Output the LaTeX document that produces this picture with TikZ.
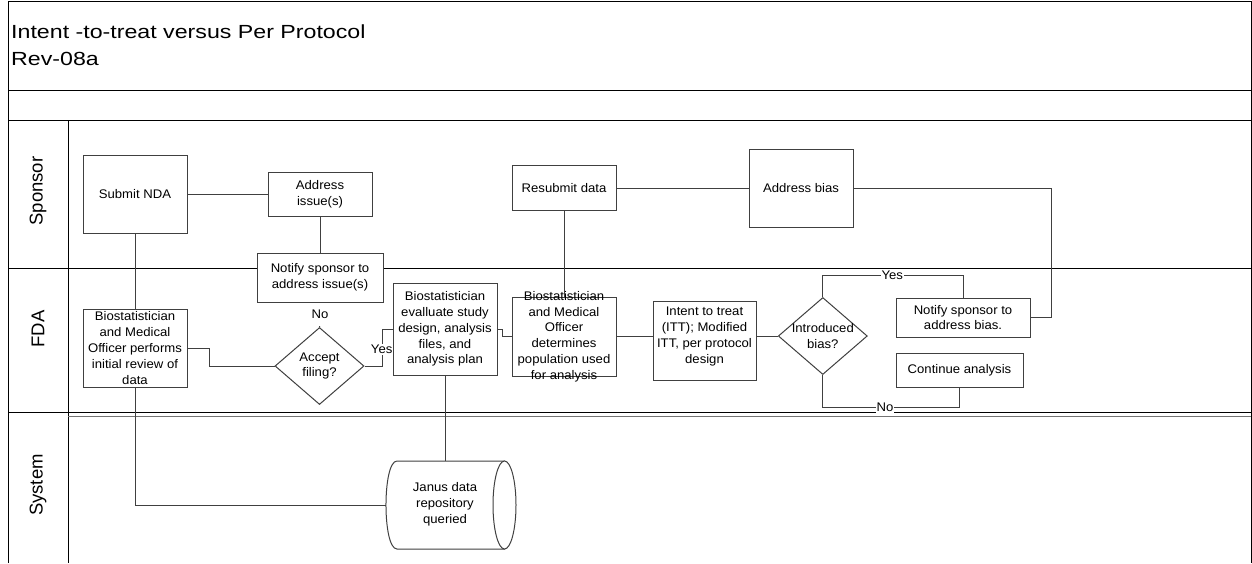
\documentclass[tikz,border=0pt]{standalone}
\usepackage{fontspec}
\setmainfont{Liberation Sans}
\newfontfamily\bodyfam[FakeStretch=1.05]{Liberation Sans}
\newfontfamily\titlefam[FakeStretch=1.22]{Liberation Sans}
\usetikzlibrary{shapes.geometric}

\tikzset{
  frame/.style={draw=black, line width=1pt},
  box/.style={rectangle, draw=black!75, fill=white, line width=1pt, inner sep=0pt},
  boxtext/.style={font=\bodyfam\fontsize{12.5}{15.8}\selectfont, align=center, inner sep=0pt},
  decision/.style={diamond, draw=black!75, fill=white, line width=1pt, inner sep=0pt},
  conn/.style={draw=black!75, line width=1pt},
  connlabel/.style={font=\bodyfam\fontsize{12.5}{15.8}\selectfont, fill=white, inner sep=1pt},
  lanelabel/.style={font=\fontsize{18.5}{22}\selectfont, rotate=90, inner sep=0pt},
  titletext/.style={font=\titlefam\fontsize{19}{27}\selectfont, anchor=base west, inner sep=0pt},
}

\begin{document}
\begin{tikzpicture}[x=1pt, y=-1pt]
\useasboundingbox (0,0) rectangle (1252,563);

% ---- pool frame, title band and swimlanes ----
\draw[frame] (8,563) -- (8,1) -- (1251,1) -- (1251,563);
\draw[frame] (8,90) -- (1251,90);
\draw[frame] (8,120) -- (1251,120);
\draw[frame] (68,120) -- (68,563);
\draw[frame] (8,268) -- (1251,268);
\draw[frame] (8,412.5) -- (1251,412.5);
\draw[draw=black!55, line width=1pt] (68,416) -- (1251,416);

\node[titletext] (title) at (11,38.3) {Intent -to-treat versus Per Protocol};
\node[titletext] (rev) at (11,65.7) {Rev-08a};

\node[lanelabel] (laneS) at (38,191) {Sponsor};
\node[lanelabel] (laneF) at (38,329) {FDA};
\node[lanelabel] (laneY) at (38,485) {System};

% ---- Sponsor lane ----
\node[box, minimum width=104pt, minimum height=78pt,
      label={[boxtext]center:Submit NDA}] (submit) at (135,194) {};
\node[box, minimum width=104pt, minimum height=44pt,
      label={[boxtext]center:{Address\\issue(s)}}] (address) at (320,194) {};
\node[box, minimum width=104pt, minimum height=45pt,
      label={[boxtext]center:Resubmit data}] (resub) at (564,188) {};
\node[box, minimum width=104pt, minimum height=78pt,
      label={[boxtext]center:Address bias}] (abias) at (801,188) {};

% ---- FDA lane ----
\node[box, minimum width=126pt, minimum height=49pt,
      label={[boxtext]center:{Notify sponsor to\\address issue(s)}}] (notify) at (320,277.5) {};
\node[box, minimum width=104pt, minimum height=78pt,
      label={[boxtext]center:{Biostatistician\\and Medical\\Officer performs\\initial review of\\data}}] (bio1) at (135,348) {};
\node[decision, minimum width=89pt, minimum height=77pt,
      label={[boxtext]center:{Accept\\filing?}}] (accept) at (319.5,366) {};
\node[box, minimum width=104pt, minimum height=92pt,
      label={[boxtext]center:{Biostatistician\\evalluate study\\design, analysis\\files, and\\analysis plan}}] (bio2) at (445,329) {};
\node[box, minimum width=104pt, minimum height=79pt,
      label={[boxtext]center:{Biostatistician\\and Medical\\Officer\\determines\\population used\\for analysis}}] (bio3) at (564,336.5) {};
\node[box, minimum width=103pt, minimum height=79pt,
      label={[boxtext, yshift=4pt]center:{Intent to treat\\(ITT); Modified\\ITT, per protocol\\design}}] (itt) at (704.5,340.5) {};
\node[decision, minimum width=89pt, minimum height=77pt,
      label={[boxtext]center:{Introduced\\bias?}}] (bias) at (822.8,336) {};
\node[box, minimum width=134pt, minimum height=39pt,
      label={[boxtext]center:{Notify sponsor to\\address bias.}}] (nbias) at (963,317.5) {};
\node[box, minimum width=127pt, minimum height=34pt,
      label={[boxtext]center:Continue analysis}] (cont) at (959.5,370) {};

% ---- System lane: direct-access storage ----
\node[inner sep=0pt, minimum width=130pt, minimum height=88pt] (janus) at (451,505) {};
\draw[box] (505,461) -- (397,461) .. controls (382.3,461) and (382.3,549) .. (397,549) -- (505,549);
\draw[box] (504.5,505) ellipse [x radius=11.5, y radius=44];
\node[boxtext] (janustext) at (445,504) {Janus data\\repository\\queried};

% ---- connectors ----
\coordinate (yesrow) at (0,275);
\coordinate (norow) at (0,407.7);

\draw[conn] (submit) -- (address);
\draw[conn] (address) -- (notify);
\draw[conn] (submit) -- (bio1);
\draw[conn] (bio1.south) |- (janus.west);
\draw[conn] (bio1.east) -- ++(22,0) |- (accept.west);
\draw[conn] (accept.north) -- (notify.south);
\draw[conn] (accept.east) -- ++(17.7,0) |- (bio2.west);
\draw[conn] (bio2.south) -- (bio2.south |- janus.north);
\draw[conn] (bio2.east) -- ++(4.7,0) |- (bio3.west);
\draw[conn] (resub) -- (bio3);
\draw[conn] (resub) -- (abias);
\draw[conn] (bio3.east) -- (bio3.east -| itt.west);
\draw[conn] (bias.west -| itt.east) -- (bias.west);
\draw[conn] (bias.north) |- (yesrow -| nbias.north) -- (nbias.north);
\draw[conn] (bias.south) |- (norow -| cont.south) -- (cont.south);
\draw[conn] (abias.east) -- (1051.7,188) |- (nbias.east);

% ---- connector labels ----
\node[connlabel, minimum height=23pt] (lblNo1) at (320,314.5) {No};
\node[connlabel] (lblYes1) at (381.7,349.3) {Yes};
\node[connlabel, inner sep=0.5pt] (lblYes2) at (892.3,275) {Yes};
\node[connlabel, inner sep=0.5pt] (lblNo2) at (885,407.7) {No};
\end{tikzpicture}
\end{document}
